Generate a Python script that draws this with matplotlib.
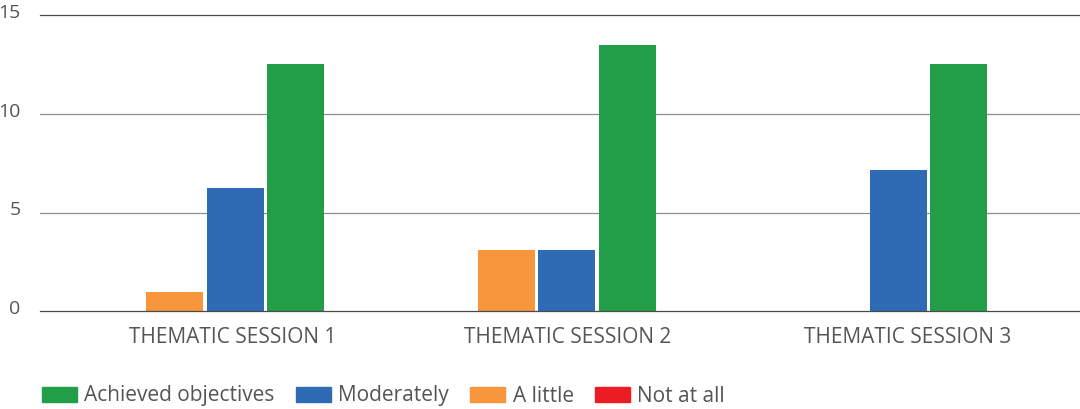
import matplotlib.pyplot as plt
from matplotlib.patches import Patch
from matplotlib.transforms import ScaledTranslation

sessions = ['THEMATIC SESSION 1', 'THEMATIC SESSION 2', 'THEMATIC SESSION 3']
not_at_all = [0, 0, 0]
a_little = [1, 3.1, 0]
moderately = [6.25, 3.1, 7.15]
achieved = [12.5, 13.5, 12.5]

colors = {'Not at all': '#ED1C24', 'A little': '#F7963A',
          'Moderately': '#2E6BB4', 'Achieved objectives': '#229D48'}
text_color = '#555555'

plt.rcParams['font.family'] = ['Open Sans', 'DejaVu Sans']

fig = plt.figure(figsize=(10.8, 4.09), dpi=100)
ax = fig.add_axes([40 / 1080, 1 - 311.3 / 409, 1 - 40 / 1080, (311.3 - 15) / 409])

# clustered bars, drawn left to right in this order
series = [('Not at all', not_at_all), ('A little', a_little),
          ('Moderately', moderately), ('Achieved objectives', achieved)]
step = 0.1825
width = 0.172
for i, (name, vals) in enumerate(series):
    xs = [k + (i - 1.5) * step for k in range(len(sessions))]
    ax.bar(xs, vals, width=width, color=colors[name], zorder=2, linewidth=0)

ax.set_xlim(-0.4977, 2.6395)
ax.set_ylim(0, 15)
ax.set_yticks([0, 5, 10, 15])

# horizontal grid, outer lines darker
for y in [5, 10]:
    ax.axhline(y, color='#8f8f8f', lw=0.9, zorder=1)
for y in [0, 15]:
    ax.axhline(y, color='#4a4a4a', lw=0.9, zorder=3, clip_on=False)

for s in ax.spines.values():
    s.set_visible(False)

label_pos = [0.083, 1.095, 2.119]
ax.set_xticks(label_pos)
ax.set_xticklabels(sessions)
ax.tick_params(axis='x', length=0, pad=11, labelsize=15, labelcolor=text_color)
ax.tick_params(axis='y', length=0, pad=14, labelsize=14, labelcolor=text_color)
# y labels sit a little above their grid lines
lift = ScaledTranslation(0, 3 / 72, fig.dpi_scale_trans)
for t in ax.get_yticklabels():
    t.set_transform(t.get_transform() + lift)

handles = [Patch(color=colors[n]) for n in
           ['Achieved objectives', 'Moderately', 'A little', 'Not at all']]
labels = ['Achieved objectives', 'Moderately', 'A little', 'Not at all']
leg = fig.legend(handles, labels, loc='center left',
                 bbox_to_anchor=(41.7 / 1080, 13 / 409), ncol=4, frameon=False,
                 fontsize=15, handlelength=1.7, handleheight=0.75,
                 handletextpad=0.35, columnspacing=1.0, borderpad=0,
                 borderaxespad=0)
for t in leg.get_texts():
    t.set_color(text_color)

fig.savefig('out.png', dpi=100)
